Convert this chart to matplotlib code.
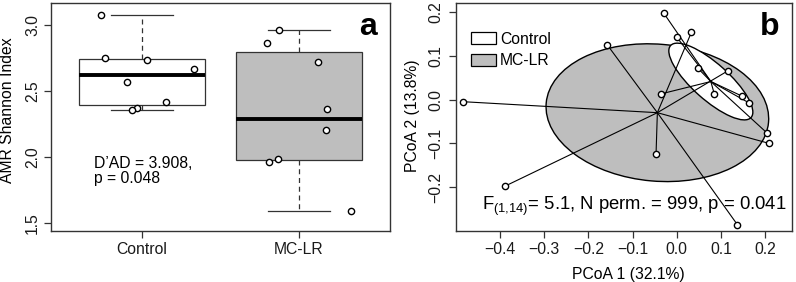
import matplotlib.pyplot as plt
import numpy as np
from matplotlib.patches import Ellipse, Patch

plt.rcParams['font.family'] = ['Liberation Sans', 'DejaVu Sans']
plt.rcParams['mathtext.fontset'] = 'custom'
plt.rcParams['mathtext.rm'] = 'Liberation Sans'

# ---- panel a: AMR Shannon index
groups = ['Control', 'MC-LR']
control_vals = [3.076, 2.752, 2.733, 2.669, 2.566, 2.419, 2.374, 2.356]
control_xpos = [0.737, 0.764, 1.030, 1.333, 0.904, 1.151, 0.966, 0.938]  # jitter
mclr_vals = [2.962, 2.866, 2.720, 2.366, 2.205, 1.987, 1.962, 1.593]
mclr_xpos = [1.870, 1.798, 2.123, 2.176, 2.170, 1.868, 1.810, 2.329]
box_colors = ['white', '#bebebe']

# ---- panel b: PCoA (betadisper)
pc1 = [-0.029, 0.033, 0.000, -0.157, 0.048, 0.115, -0.035, 0.085,
       0.147, 0.164, -0.483, 0.205, 0.209, -0.047, -0.388, 0.137]
pc2 = [0.196, 0.153, 0.142, 0.124, 0.071, 0.065, 0.013, 0.012,
       0.008, -0.008, -0.005, -0.077, -0.100, -0.125, -0.197, -0.285]
grp = [0, 1, 0, 1, 0, 1, 0, 0, 0, 0, 1, 0, 1, 1, 1, 1]  # 0 Control, 1 MC-LR
cent_x = [0.077, -0.044]
cent_y = [0.041, -0.030]
ell_w = [0.245, 0.505]
ell_h = [0.082, 0.312]
ell_ang = [-42, -5]
ell_fill = ['white', '#bebebe']

edge = '#333333'
fs = 11.3


def fivenum(v):
    s = np.sort(v)
    n = len(s)
    n4 = np.floor((n + 3) / 2) / 2
    d = np.array([1, n4, (n + 1) / 2, n + 1 - n4, n]) - 1
    return 0.5 * (s[np.floor(d).astype(int)] + s[np.ceil(d).astype(int)])


def box_stats(v):
    lo, q1, med, q3, hi = fivenum(v)
    iqr = q3 - q1
    v = np.asarray(v)
    inside = v[(v >= q1 - 1.5 * iqr) & (v <= q3 + 1.5 * iqr)]
    return dict(med=med, q1=q1, q3=q3, whislo=inside.min(),
                whishi=inside.max(), fliers=[])


def style_axes(ax):
    for s in ax.spines.values():
        s.set_color(edge)
        s.set_linewidth(1.0)
    ax.tick_params(length=5, width=0.9, color=edge, labelsize=fs,
                   labelcolor='#1a1a1a')


fig = plt.figure(figsize=(7.96, 2.82), dpi=100)

# ---------------- a
ax = fig.add_axes([0.0641, 0.1809, 0.4258, 0.8085])
stats = [box_stats(control_vals), box_stats(mclr_vals)]
bp = ax.bxp(stats, positions=[1, 2], widths=0.8, patch_artist=True,
            showfliers=False, capwidths=0.4,
            boxprops=dict(edgecolor=edge, linewidth=0.9),
            medianprops=dict(color='black', linewidth=2.8,
                             solid_capstyle='butt'),
            whiskerprops=dict(color=edge, linewidth=0.9,
                              linestyle=(0, (4, 3))),
            capprops=dict(color=edge, linewidth=0.9))
for patch, c in zip(bp['boxes'], box_colors):
    patch.set_facecolor(c)
ax.plot(control_xpos, control_vals, 'o', ms=4.5, mfc='white', mec='black',
        mew=1.0, zorder=5)
ax.plot(mclr_xpos, mclr_vals, 'o', ms=4.5, mfc='white', mec='black',
        mew=1.0, zorder=5)
ax.set_xlim(0.42, 2.58)
ax.set_ylim(1.439, 3.167)
ax.set_xticks([1, 2])
ax.set_xticklabels(groups)
ax.set_yticks([1.5, 2.0, 2.5, 3.0])
ax.set_yticklabels(['1.5', '2.0', '2.5', '3.0'], rotation=90, va='center')
style_axes(ax)
ax.tick_params(axis='x', pad=3)
ax.tick_params(axis='y', pad=3)
ax.set_ylabel('AMR Shannon Index', fontsize=fs, va='center')
ax.yaxis.set_label_coords(-0.128, 0.528)
ax.text(0.694, 1.914, 'D\u2019AD = 3.908,', fontsize=fs, va='baseline')
ax.text(0.694, 1.801, 'p = 0.048', fontsize=fs, va='baseline')
ax.text(0.961, 0.86, 'a', transform=ax.transAxes, fontsize=23,
        fontweight='bold', ha='right', va='baseline')

# ---------------- b
bx = fig.add_axes([0.5725, 0.1809, 0.4221, 0.8071])
for g in (1, 0):
    bx.add_patch(Ellipse((cent_x[g], cent_y[g]), ell_w[g], ell_h[g],
                         angle=ell_ang[g], facecolor=ell_fill[g],
                         edgecolor='black', linewidth=1.0, zorder=1))
for x, y, g in zip(pc1, pc2, grp):
    bx.plot([x, cent_x[g]], [y, cent_y[g]], color='black', lw=0.8, zorder=2)
bx.plot(pc1, pc2, 'o', ms=4.5, mfc='white', mec='black', mew=1.0, zorder=4)
bx.set_xlim(-0.5003, 0.260)
bx.set_ylim(-0.2995, 0.219)
bx.set_xticks([-0.4, -0.3, -0.2, -0.1, 0.0, 0.1, 0.2])
bx.set_xticklabels(['\u22120.4', '\u22120.3', '\u22120.2', '\u22120.1',
                    '0.0', '0.1', '0.2'])
bx.set_yticks([-0.2, -0.1, 0.0, 0.1, 0.2])
bx.set_yticklabels(['\u22120.2', '\u22120.1', '0.0', '0.1', '0.2'],
                   rotation=90, va='center')
style_axes(bx)
bx.tick_params(axis='x', pad=3)
bx.tick_params(axis='y', pad=4)
bx.set_xlabel('PCoA 1 (32.1%)', fontsize=fs, va='center')
bx.xaxis.set_label_coords(0.514, -0.193)
bx.set_ylabel('PCoA 2 (13.8%)', fontsize=fs, va='center')
bx.yaxis.set_label_coords(-0.1286, 0.505)
handles = [Patch(facecolor=c, edgecolor='black', linewidth=0.9)
           for c in ell_fill]
bx.legend(handles, groups, loc='upper left', bbox_to_anchor=(0.045, 0.875),
          frameon=False, fontsize=fs, borderpad=0, handlelength=1.6,
          handleheight=0.78, handletextpad=0.25, labelspacing=0.4,
          borderaxespad=0)
bx.text(0.077, 0.092,
        r'F$_{\mathregular{(1{,}14)}}$= 5.1, N perm. = 999, p = 0.041',
        transform=bx.transAxes, fontsize=13.3, va='baseline', zorder=6)
bx.text(0.965, 0.86, 'b', transform=bx.transAxes, fontsize=23,
        fontweight='bold', ha='right', va='baseline')

fig.savefig('out.png', dpi=100)
